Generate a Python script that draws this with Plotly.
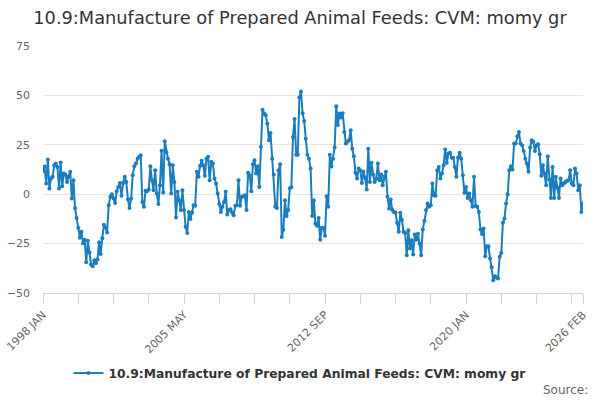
import plotly.graph_objects as go

# monthly momy growth, 1998 JAN .. 2026 FEB
values = [
    11.8, 14, 5.4, 17.5, 2.9, 8, 8.8, 14.7, 15.5, 13.8,
    2.9, 16, 4, 10.5, 10, 6.2, 9, 11.3, -2.2, 7,
    -7, -12, -17, -22, -19, -24.8, -23, -34.4, -23.6, -29.5,
    -35.6, -36.4, -33.4, -35, -33, -24.3, -30.2, -22.3, -15.5, -16.9,
    -19.4, -5.6, -1.3, 0, -2.2, -4.4, 1.5, 3.7, 5.7, -0.8,
    5.7, 8.8, 6.2, -2.7, -7, -2.2, 9.6, 14.2, 15.5, 18,
    18.9, 19.7, -3.9, -6.4, 1.7, 1.5, 2.4, 14.2, 7, 2,
    12.1, 0.3, -5, 4.5, 22, 0.8, 26.8, 21.2, 18, 15.2,
    0.3, 14.7, 6.2, -11.8, 1.2, -3, -8, 2, -8, -16.5,
    -19.6, -9, -12.6, -9.3, -5.6, -5.9, 11.3, 8.8, 14.3, 16.9,
    14.7, 9.3, 18, 18.9, 7, 16.4, 15.5, 8, 5.4, 0.3,
    -5, -9, -6.4, -3.9, 1.2, -10.3, -8, -7.6, -9.3, -10.6,
    -5.9, -5.6, 7, -5.9, -1.3, -1, -0.5, -8, 10.8, 9.6,
    1.5, 15.2, 17.2, 10.5, 14.2, 3.7, 24, 42.8, 40.8, 40,
    35.8, 27.3, 31, 18, 10, -6.4, -7, 12.1, 15.2, -21.6,
    -18, -3, -11, -8, 3, 3.5, 29, 38, 20, 20,
    49, 52, 41, 37, 28, 20, 18, 13, -11, -3,
    -15, -16, -12, -23, -17, -17, -21, -1, -6.4, 20,
    14, 18, 23.6, 44.5, 35, 40.8, 38.8, 41, 31.5, 25.6,
    26.5, 27.3, 32.4, 23, 19.2, 10.8, 8, 13, 12, 5.7,
    11.3, 8.3, 2.4, 23, 6.2, 15.9, 10, 6.2, 8, 15.5,
    7, 10, 4.5, 8.8, 11.3, -1.3, -7.2, -2.7, -8, -9,
    -9.3, -14.5, -19, -9.4, -13, -19, -19.6, -30.9, -18.2, -27.5,
    -23.3, -30.5, -20.4, -23, -20, -25, -30.9, -17.9, -13.5, -8,
    -4.7, -6.4, -5.6, 5.4, -0.5, -0.8, 12.1, 13.8, 8, 10.5,
    14.7, 22.6, 15.9, 20.6, 21, 18.5, 18.5, 13.8, 8.8, 18.5,
    21, 18, 9.6, 0.7, 3.7, -1.9, 0.3, -3, -6.4, 8.8,
    -6, -6.4, -9, -17.9, -20.2, -17.4, -31.4, -26.3, -26.3, -32.5,
    -37, -43.5, -41.5, -42.2, -42.7, -31.7, -29.7, -14.5, -12.3, -4.7,
    0, 12.1, 14.2, 12.5, 25.6, 25.6, 29.3, 31.5, 25.6, 24.8,
    21.9, 18, 15.5, 11.3, 23.6, 27.3, 26.5, 21.9, 24.8, 25.3,
    20.2, 9.3, 14.7, 10.5, 4.5, 19.2, 7.4, -1.9, 13.8, -1.9,
    8.8, 3.4, -1.9, 8, 4.5, 5.4, 6.2, 6.7, 7, 12.1,
    5.4, 4.5, 13, 10.5, 2, 4.5, -9, -4.7,
]
months = list(range(len(values)))

tick_pos = [0, 88, 176, 264, 337]
tick_labels = ['1998 JAN', '2005 MAY', '2012 SEP', '2020 JAN', '2026 FEB']
minor_pos = list(range(0, 337, 22)) + [337]

series_name = '10.9:Manufacture of Prepared Animal Feeds: CVM: momy gr'
line_color = '#1a7dc0'

fig = go.Figure(go.Scatter(
    x=months, y=values, mode='lines+markers', name=series_name,
    line=dict(color=line_color, width=2),
    marker=dict(color=line_color, size=4),
))

fig.update_layout(
    width=600, height=400,
    paper_bgcolor='white', plot_bgcolor='white',
    margin=dict(l=43, r=17, t=46, b=107, autoexpand=False),
    font=dict(family='DejaVu Sans', color='#666666', size=11),
    title=dict(text=series_name, x=0.5, xanchor='center', y=0.955, yanchor='middle',
               font=dict(family='DejaVu Sans', size=17.8, color='#333333')),
    showlegend=True,
    legend=dict(orientation='h', xref='container', x=0.5, xanchor='center',
                yref='container', y=0.0675, yanchor='middle',
                font=dict(family='DejaVu Sans', size=12.3, color='#333333', weight='bold')),
)
fig.update_xaxes(
    range=[0, 337], tickmode='array', tickvals=tick_pos, ticktext=tick_labels,
    tickangle=-45, ticks='outside', ticklen=10, tickcolor='#ccd6eb',
    showline=True, linecolor='#ccd6eb', showgrid=False, zeroline=False,
    automargin=False, tickfont=dict(size=11, color='#666666'),
    minor=dict(tickmode='array', tickvals=minor_pos, ticks='outside', ticklen=10,
               tickcolor='#ccd6eb', showgrid=False),
)
fig.update_yaxes(
    range=[-50, 75], dtick=25, showgrid=True, gridcolor='#e6e6e6',
    zeroline=False, showline=False, ticks='', automargin=False,
    ticklabelstandoff=12, tickfont=dict(size=11, color='#666666'),
)
fig.add_annotation(text='Source:', xref='paper', yref='paper', x=1.013, y=-0.393,
                   xanchor='right', yanchor='middle', showarrow=False,
                   font=dict(size=12, color='#666666'))

# page body has a default 8px margin; drop it so the figure fills the window
fig.write_html('out.html', config={'displayModeBar': False},
               post_script="document.body.style.margin='0';")
